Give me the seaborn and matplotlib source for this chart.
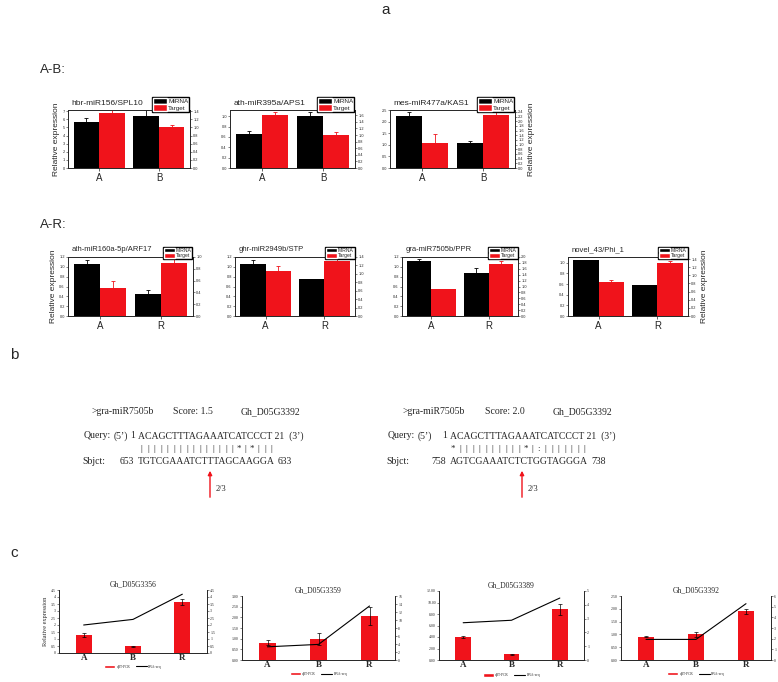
"""
Composite figure: miRNA/target expression (a), target alignments (b),
qRT-PCR vs RNA-seq validation (c)
"""
import numpy as np
import pandas as pd
import matplotlib
matplotlib.use("Agg")
import matplotlib.pyplot as plt
import seaborn as sns
from matplotlib.patches import Patch, FancyArrowPatch
from matplotlib.lines import Line2D

# ---------------- data ----------------
ab_groups = ["A", "B"]
ab_titles = ["hbr-miR156/SPL10", "ath-miR395a/APS1", "mes-miR477a/KAS1"]
ab_mirna = [[5.66, 6.40], [0.65, 1.00], [2.22, 1.09]]
ab_mirna_err = [[0.45, 0.75], [0.07, 0.08], [0.20, 0.08]]
ab_target = [[1.35, 1.00], [1.61, 1.00], [1.05, 2.26]]
ab_target_err = [[0.10, 0.07], [0.10, 0.09], [0.40, 0.20]]

ar_groups = ["A", "R"]
ar_titles = ["ath-miR160a-5p/ARF17", "ghr-miR2949b/STP", "gra-miR7505b/PPR", "novel_43/Phi_1"]
ar_mirna = [[1.05, 0.45], [1.05, 0.75], [1.12, 0.87], [1.05, 0.58]]
ar_mirna_err = [[0.08, 0.085], [0.08, 0.01], [0.03, 0.10], [0.01, 0.01]]
ar_target = [[0.48, 0.90], [1.07, 1.30], [0.92, 1.75], [0.84, 1.30]]
ar_target_err = [[0.11, 0.06], [0.12, 0.10], [0.01, 0.12], [0.04, 0.06]]

c_groups = ["A", "B", "R"]
c_titles = ["Gh_D05G3356", "Gh_D05G3359", "Gh_D05G3389", "Gh_D05G3392"]
c_qpcr = [[1.28, 0.47, 3.65], [0.82, 1.00, 2.07], [3.94, 1.00, 8.80], [0.91, 1.00, 1.90]]
c_qpcr_err = [[0.17, 0.05, 0.23], [0.12, 0.28, 0.42], [0.20, 0.08, 0.90], [0.03, 0.10, 0.10]]
c_rnaseq = [[2.00, 2.40, 4.20], [3.30, 3.90, 13.50], [2.70, 2.88, 4.49], [1.93, 1.93, 5.28]]

# alignments for panel b
aln_mirna = ">gra-miR7505b"
aln_gene = "Gh_D05G3392"
aln_scores = ["1.5", "2.0"]
aln_query = "ACAGCTTTAGAAATCATCCCT"
aln_sbjct = ["TGTCGAAATCTTTAGCAAGGA", "AGTCGAAATCTCTGGTAGGGA"]
aln_sbjct_start = [653, 758]
aln_sbjct_end = [633, 738]
aln_match = ["|||||||||||||||*|*|||", "*||||||||||*|:|||||||"]

# ---------------- layout / style ----------------
W, H = 778, 682
RED = "#f0131b"
SANS = ["Liberation Sans", "DejaVu Sans"]
SERIF = ["Liberation Serif", "DejaVu Serif"]

ab_boxes = [(68, 110, 190, 168), (230, 110, 355, 168), (390, 110, 515, 168)]
ab_left = [(7.15, 1.0), (1.12, 0.2), (2.5, 0.5)]
ab_right = [(1.43, 0.2), (1.76, 0.2), (2.48, 0.2)]
ar_boxes = [(68, 257, 193, 316), (235, 257, 355, 316), (402, 257, 518, 316), (568, 257, 688, 316)]
ar_left = [(1.2, 0.2), (1.2, 0.2), (1.2, 0.2), (1.11, 0.2)]
ar_right = [(1.0, 0.2), (1.4, 0.2), (2.0, 0.2), (1.45, 0.2)]
c_boxes = [(59, 590, 207, 653), (242, 596, 395, 660), (439, 591, 584, 660), (621, 596, 771, 660)]
c_left = [(4.5, 0.5, "{:g}"), (3.0, 0.5, "{:.2f}"), (12.0, 2.0, "{:.2f}"), (2.5, 0.5, "{:.2f}")]
c_right = [(4.5, 0.5, "{:g}"), (16, 2, "{:g}"), (5, 1, "{:g}"), (6, 1, "{:g}")]

sns.set_style("ticks")
plt.rcParams["font.family"] = SANS
plt.rcParams["axes.linewidth"] = 0.6

fig = plt.figure(figsize=(W / 100, H / 100), dpi=100)


def box(x0, y0, x1, y1):
    return [x0 / W, 1 - y1 / H, (x1 - x0) / W, (y1 - y0) / H]


def set_scale(ax, lim, step, fmt, **kw):
    ticks = np.arange(0, lim + 1e-6, step)
    ax.set_ylim(0, lim)
    ax.set_yticks(ticks, [fmt.format(t) for t in ticks], **kw)


def draw_pair(rect, groups, title, mirna, mirna_err, target, target_err,
              left, right, ylab=None, leg_size=4.0, title_size=6.0):
    ax = fig.add_axes(box(*rect))
    ax2 = ax.twinx()
    hue_order = ["MiRNA", "Target"]
    palette = {"MiRNA": "black", "Target": RED}
    for a, series, vals, errs, ecol in [(ax, "MiRNA", mirna, mirna_err, "black"),
                                        (ax2, "Target", target, target_err, RED)]:
        df = pd.DataFrame({"group": groups, "value": vals, "series": series})
        sns.barplot(data=df, x="group", y="value", hue="series", order=groups,
                    hue_order=hue_order, palette=palette, dodge=True, width=0.85,
                    saturation=1, errorbar=None, legend=False, linewidth=0, ax=a)
        bars = sorted([p for p in a.patches if p.get_height() > 0], key=lambda p: p.get_x())
        xs = [p.get_x() + p.get_width() / 2 for p in bars]
        a.errorbar(xs, vals, yerr=[np.zeros(len(errs)), errs], fmt="none",
                   ecolor=ecol, elinewidth=0.6, capsize=1.2, capthick=0.6)
        a.set_ylabel("")
        a.set_xlabel("")

    lfmt = "{:.0f}" if left[1] >= 1 else "{:.1f}"
    set_scale(ax, left[0], left[1], lfmt)
    set_scale(ax2, right[0], right[1], "{:.1f}")
    for a in (ax, ax2):
        a.tick_params(axis="y", labelsize=2.8, length=1.5, width=0.4, pad=0.8)
        for s in a.spines.values():
            s.set_visible(True)
            s.set_linewidth(0.6)
    ax.tick_params(axis="x", labelsize=7, length=2, width=0.5, pad=1.5)

    ax.text(0.03, 1.12, title, transform=ax.transAxes, fontsize=title_size,
            va="center", ha="left")
    ax2.legend([Patch(facecolor="black"), Patch(facecolor=RED)], ["MiRNA", "Target"],
               loc="lower right", bbox_to_anchor=(1.0, 0.96), fontsize=leg_size, frameon=True,
               fancybox=False, edgecolor="black", framealpha=1, borderpad=0.15,
               labelspacing=0.05, handlelength=2.2, handleheight=1.1, handletextpad=0.2,
               borderaxespad=0.1)
    if ylab == "left":
        ax.set_ylabel("Relative expression", fontsize=6, labelpad=2)
    elif ylab == "right":
        ax2.set_ylabel("Relative expression", fontsize=6, labelpad=3)


def draw_validation(rect, title, qpcr, qpcr_err, rnaseq, left, right, ylab=False):
    ax = fig.add_axes(box(*rect))
    pos = np.arange(len(c_groups))
    df = pd.DataFrame({"group": c_groups, "value": qpcr})
    sns.barplot(data=df, x="group", y="value", order=c_groups, color=RED, saturation=1,
                width=0.32, errorbar=None, linewidth=0, ax=ax)
    ax.errorbar(pos, qpcr, yerr=qpcr_err, fmt="none", ecolor="black",
                elinewidth=0.5, capsize=1.2, capthick=0.5)
    ax2 = ax.twinx()
    sns.lineplot(x=pos, y=rnaseq, color="black", linewidth=0.8, ax=ax2)

    set_scale(ax, left[0], left[1], left[2], fontfamily=SERIF)
    set_scale(ax2, right[0], right[1], right[2], fontfamily=SERIF)
    ax.set_xticks(pos, c_groups, fontfamily=SERIF, fontweight="bold", fontsize=6.5)
    ax.set_xlim(-0.5, len(c_groups) - 0.5)
    for a in (ax, ax2):
        a.set_xlabel("")
        a.set_ylabel("")
        a.spines["top"].set_visible(False)
        a.tick_params(axis="y", labelsize=2.8, length=1.5, width=0.4, pad=0.8)
    ax2.spines["right"].set_visible(True)
    ax.tick_params(axis="x", length=0, pad=1)

    ax.set_title(title, fontsize=5.5, fontfamily=SERIF, pad=3)
    ax.legend([Patch(facecolor=RED), Line2D([0], [0], color="black", lw=0.8)],
              ["qRT-PCR", "RNA-seq"], loc="center", bbox_to_anchor=(0.5, -0.22),
              ncol=2, frameon=False, handlelength=3.0, handleheight=1.0,
              columnspacing=1.5, handletextpad=0.4, prop={"family": SERIF, "size": 2.6})
    if ylab:
        ax.set_ylabel("Relative expression", fontsize=4.5, fontfamily=SERIF, labelpad=2)


# ---------------- panel a ----------------
fig.text(386 / W, 1 - 10 / H, "a", fontsize=11, ha="center", va="center")
fig.text(40 / W, 1 - 70 / H, "A-B:", fontsize=9.5, ha="left", va="center")
fig.text(40 / W, 1 - 225 / H, "A-R:", fontsize=9.5, ha="left", va="center")

for i in range(len(ab_titles)):
    ylab = "left" if i == 0 else ("right" if i == len(ab_titles) - 1 else None)
    draw_pair(ab_boxes[i], ab_groups, ab_titles[i], ab_mirna[i], ab_mirna_err[i],
              ab_target[i], ab_target_err[i], ab_left[i], ab_right[i], ylab,
              leg_size=4.6, title_size=6.0)

for i in range(len(ar_titles)):
    ylab = "left" if i == 0 else ("right" if i == len(ar_titles) - 1 else None)
    draw_pair(ar_boxes[i], ar_groups, ar_titles[i], ar_mirna[i], ar_mirna_err[i],
              ar_target[i], ar_target_err[i], ar_left[i], ar_right[i], ylab,
              leg_size=3.6, title_size=5.5)

# ---------------- panel b ----------------
fig.text(10 / W, 1 - 355 / H, "b", fontsize=11, ha="left", va="center")
renderer = fig.canvas.get_renderer()
tkw = dict(fontsize=7, fontfamily=SERIF, va="center")
for k in range(len(aln_scores)):
    dx = 312 * (k - 1)  # left block is a shifted copy of the right one
    lab_dx = 8 if k == 0 else 0
    yh, yq, ym, ys = 1 - 412 / H, 1 - 436 / H, 1 - 449 / H, 1 - 461 / H
    fig.text((403 + dx) / W, yh, aln_mirna, **tkw)
    fig.text((485 + dx) / W, yh, "Score: " + aln_scores[k], **tkw)
    fig.text((553 + dx) / W, yh, aln_gene, **tkw)

    fig.text((388 + dx + lab_dx) / W, yq, "Query:", **tkw)
    fig.text((418 + dx + lab_dx) / W, yq, "(5\u2019)", **tkw)
    fig.text((447 + dx) / W, yq, "1", ha="right", **tkw)
    fig.text((450 + dx) / W, yq, aln_query + " 21  (3\u2019)", **tkw)

    fig.text((386 + dx + lab_dx) / W, ys, "Sbjct:", **tkw)
    fig.text((446 + dx) / W, ys, str(aln_sbjct_start[k]), ha="right", **tkw)
    ts = fig.text((450 + dx) / W, ys, aln_sbjct[k], **tkw)
    bb = ts.get_window_extent(renderer)
    fig.text((bb.x1 + 3) / W, ys, str(aln_sbjct_end[k]), **tkw)

    step = bb.width / len(aln_sbjct[k])
    for j, sym in enumerate(aln_match[k]):
        fig.text((bb.x0 + (j + 0.5) * step) / W, ym, sym, ha="center",
                 fontsize=6.5, fontfamily=SERIF, va="center")

    xa = (522 + dx) / W
    fig.add_artist(FancyArrowPatch((xa, 1 - 500 / H), (xa, 1 - 468 / H),
                                   transform=fig.transFigure, arrowstyle="-|>",
                                   mutation_scale=6, color=RED, lw=1.0))
    fig.text((528 + dx) / W, 1 - 489 / H, "2/3", fontsize=6, fontfamily=SERIF, va="center")

# ---------------- panel c ----------------
fig.text(10 / W, 1 - 553 / H, "c", fontsize=11, ha="left", va="center")
for i in range(len(c_titles)):
    draw_validation(c_boxes[i], c_titles[i], c_qpcr[i], c_qpcr_err[i], c_rnaseq[i],
                    c_left[i], c_right[i], ylab=(i == 0))

fig.savefig("out.png", dpi=100)
